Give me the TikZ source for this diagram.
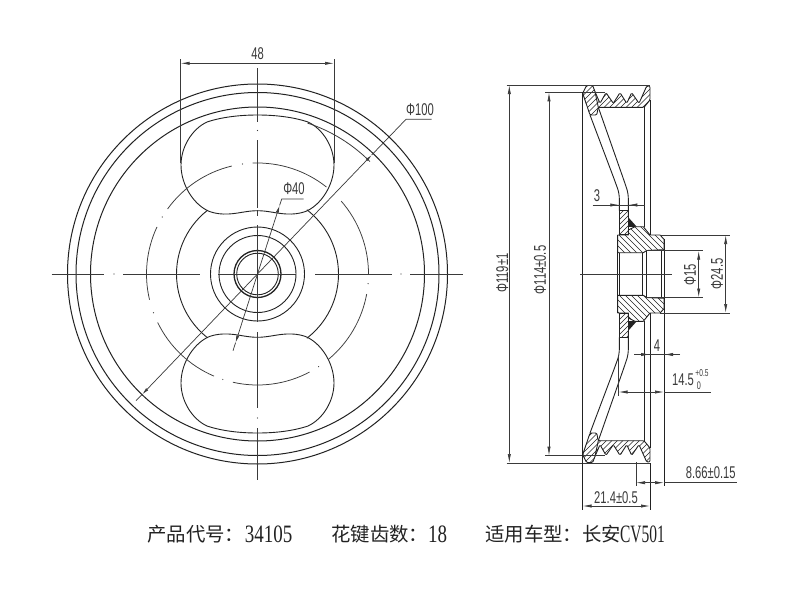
\documentclass[tikz,border=0pt]{standalone}
\usepackage{fontspec}
\setmainfont{Liberation Sans}
\newfontfamily\cjk{Noto Sans CJK SC}
\newfontfamily\capfont{Liberation Serif}
\usetikzlibrary{arrows.meta}
\definecolor{ink}{HTML}{222222}
\definecolor{thinink}{HTML}{3A3A3A}
\tikzset{
  x=1pt,y=-1pt,
  outl/.style={line width=0.9pt,color=ink,line join=round},
  rimc/.style={line width=1.0pt,color=ink},
  cl/.style={line width=0.75pt,color=thinink},
  dot/.style={fill=thinink,draw=none},
  dim/.style={line width=0.7pt,color=thinink},
  dimar/.style={dim,{Latex[length=9pt,width=3.2pt]}-{Latex[length=9pt,width=3.2pt]}},
  tipar/.style={dim,-{Latex[length=7pt,width=3pt]}},
  hat/.style={line width=0.5pt,color=ink},
  lbl/.style={font=\fontsize{17}{17}\selectfont,text=thinink,xscale=0.66,inner sep=0pt},
  lblv/.style={font=\fontsize{17}{17}\selectfont,text=thinink,rotate=90,xscale=0.66,inner sep=0pt},
  capz/.style={font=\cjk\fontsize{19.4}{20}\selectfont,text=ink,anchor=west,inner sep=0pt},
  capd/.style={font=\capfont\fontsize{25}{25}\selectfont,text=ink,anchor=west,inner sep=0pt,xscale=0.76},
}
% hatch lines through (k,274); #1 = slope in local coords
\newcommand{\hatchl}[4]{\foreach \k in {#2,#3,...,#4}{\draw[hat] ({\k-195},{274-195*(#1)}) -- ({\k+195},{274+195*(#1)});}}
\newcommand{\ringarc}[3]{\draw[#3] (257.5,274) ++(#1:111pt) arc[start angle=#1,end angle=#2,radius=111pt];}
\newcommand{\rdot}[1]{\fill[dot] (257.5,274) ++(#1:111pt) circle[radius=0.6pt];}
% one half of the section; #1 = +1 upper, -1 mirrored
\newcommand{\halfsec}[1]{%
  % rim and teeth hatch
  \begin{scope}
    \clip[rounded corners=1.2pt] (582.7,93.3) -- (586.5,85.5) -- (592.7,85.5) -- (595,91.7) -- (600,103.3) -- (606,92.7) -- (613.3,103.3) -- (620,92.7) -- (626.7,103.3) -- (631.7,92.7) -- (639,103.3) -- (646.7,86) -- (650,86) -- (650,100) -- (644,107.3) -- (598.3,107.3) -- (596.7,115) -- (590,115) -- cycle;
    \hatchl{-1*(#1)}{300}{305.5}{1000}
  \end{scope}
  \draw[outl,rounded corners=1.2pt] (582.7,93.3) -- (586.5,85.5) -- (592.7,85.5) -- (595,91.7) -- (600,103.3) -- (606,92.7) -- (613.3,103.3) -- (620,92.7) -- (626.7,103.3) -- (631.7,92.7) -- (639,103.3) -- (646.7,86) -- (650,86) -- (650,100) -- (644,107.3) -- (598.3,107.3) -- (596.7,115) -- (590,115) -- cycle;
  \draw[outl] (595,91.7) -- (598.3,107.3);
  % web
  \draw[outl,rounded corners=5pt] (590,115) -- (614.5,180) -- (619.3,193.3) -- (619.3,210.7);
  \draw[outl,rounded corners=5pt] (598.3,107.3) -- (623.8,180) -- (628.3,193.3) -- (628.3,217.3);
  % plate
  \begin{scope}
    \clip (619.3,210.7) rectangle (628.3,234.5);
    \hatchl{-1*(#1)}{560}{565}{1000}
  \end{scope}
  \draw[outl] (619.3,210.7) rectangle (628.3,234.5);
  % weld
  \fill[ink] (628.3,217.3) -- (628.3,226.9) -- (636.7,226.7) -- cycle;
  % hub
  \begin{scope}
    \clip (617.7,235) -- (628.3,235) -- (628.3,230) -- (635,226.7) -- (643.3,226.7) -- (650,235) -- (660,235) -- (664,239.3) -- (664,249.7) -- (646.7,250.5) -- (643.3,252.7) -- (617.7,252.7) -- cycle;
    \hatchl{#1}{400}{406}{1000}
  \end{scope}
  \draw[outl] (617.7,235) -- (628.3,235) -- (628.3,230) -- (635,226.7) -- (643.3,226.7) -- (650,235) -- (660,235) -- (664,239.3) -- (664,249.7) -- (646.7,250.5) -- (643.3,252.7) -- (617.7,252.7) -- cycle;
  \draw[outl] (644,107.3) -- (644,226.7);
  \draw[outl] (650,100) -- (650,235);
  % extension and outline lines
  \draw[dim] (506.7,85) -- (650,85);
  \draw[dim] (545,92.3) -- (605,92.3);
}
\newcommand{\slotshape}{%
  \draw[outl] (257.5,115)
    .. controls (275,115) and (293,117) .. (308,122)
    .. controls (323,129) and (334,147) .. (334,165)
    .. controls (334,186) and (320,206) .. (305,211.7)
    .. controls (299,213.7) and (293,214.3) .. (286.7,214)
    .. controls (276,213.5) and (268,210.7) .. (257.5,210.7)
    .. controls (247,210.7) and (239,213.5) .. (228.3,214)
    .. controls (222,214.3) and (216,213.7) .. (210,211.7)
    .. controls (195,206) and (181,186) .. (181,165)
    .. controls (181,147) and (192,129) .. (207,122)
    .. controls (222,117) and (240,115) .. (257.5,115) -- cycle;
}
\begin{document}
\begin{tikzpicture}
\useasboundingbox (0,0) rectangle (800,600);
\fill[white] (0,0) rectangle (800,600);
% --- front view -------------------------------------------------
\foreach \r in {190,181.5,167}{\draw[rimc] (257.5,274) circle[radius=\r pt];}
\foreach \r in {47,38.5}{\draw[outl] (257.5,274) circle[radius=\r pt];}
\draw[line width=1.3pt,color=ink] (257.5,274) circle[radius=23.5pt];
\draw[outl] (257.5,274) circle[radius=20.8pt];
% R81 arcs
\draw[outl] (257.5,274) ++(128:81pt) arc[start angle=128,end angle=232,radius=81pt];
\draw[outl] (257.5,274) ++(-52.5:81pt) arc[start angle=-52.5,end angle=52.5,radius=81pt];
% slots
\slotshape
\begin{scope}[shift={(0,548)},yscale=-1]\slotshape\end{scope}
\draw[dim,line width=0.8pt] (257.5,274) ++(71.7:159pt) arc[start angle=71.7,end angle=45,radius=159pt];
% centre circle dash-dot
\ringarc{51.6}{92.5}{cl}\rdot{97.8}
\ringarc{103.4}{144.1}{cl}\rdot{149.1}
\ringarc{154.9}{193.4}{cl}\rdot{200.4}
\ringarc{205.9}{246.9}{cl}\rdot{251.8}
\ringarc{257.2}{298}{cl}\rdot{303.4}
\ringarc{309.9}{349.6}{cl}\rdot{355}
\ringarc{0}{41}{cl}
% centre lines
\draw[cl] (51.7,274) -- (104,274);
\fill[dot] (114,274) circle[radius=0.6pt];
\draw[cl] (123.3,274) -- (200,274);
\draw[cl] (218,274) -- (296,274);
\draw[cl] (315,274) -- (391.7,274);
\fill[dot] (401,274) circle[radius=0.6pt];
\draw[cl] (410,274) -- (463,274);
\draw[cl] (257.5,68) -- (257.5,122);
\fill[dot] (257.5,130.5) circle[radius=0.6pt];
\draw[cl] (257.5,140) -- (257.5,208);
\draw[cl] (257.5,210) -- (257.5,216);
\draw[cl] (257.5,225) -- (257.5,322);
\draw[cl] (257.5,332) -- (257.5,408);
\fill[dot] (257.5,418) circle[radius=0.6pt];
\draw[cl] (257.5,428) -- (257.5,480);
% dimension 48
\draw[dim] (180.5,59) -- (180.5,163);
\draw[dim] (334,59) -- (334,163);
\draw[dimar] (180.5,63.3) -- (334,63.3);
\node[lbl] (t48) at (257.5,54) {48};
% phi 100
\coordinate (c) at (257.5,274);
\coordinate (p100a) at (371.7,155);
\coordinate (p100b) at (142.3,394.3);
\draw[tipar] (c) -- (p100a);
\draw[tipar] (c) -- (p100b);
\draw[dim] (p100a) -- (406,119.3) -- (431.7,119.3);
\draw[dim] (p100b) -- (136,400.7);
\node[lbl] (t100) at (420,110) {Φ100};
% phi 40
\coordinate (p40a) at (279.6,205.5);
\coordinate (p40b) at (235.6,342.6);
\draw[tipar] (c) -- (p40a);
\draw[tipar] (c) -- (p40b);
\draw[dim] (p40a) -- (281.7,199) -- (303.5,199);
\draw[dim] (p40b) -- (233,350.7);
\node[lbl] (t40) at (294,189) {Φ40};
% --- section view -----------------------------------------------
\halfsec{1}
\begin{scope}[shift={(0,548)},yscale=-1]\halfsec{-1}\end{scope}
\draw[outl] (582.5,92) -- (582.5,510);
\draw[outl] (617.7,235) -- (617.7,313);
\draw[outl] (619.5,252.7) -- (619.5,295.3);
\draw[outl] (642.7,252.7) -- (642.7,295.3);
\draw[outl] (646.7,250.5) -- (646.7,297.5);
\draw[outl] (661.7,250) -- (661.7,298);
\draw[outl] (664,239.3) -- (664,486);
\draw[outl] (650,463) -- (650,510);
\draw[cl] (580,274) -- (672,274);
% dim 119 / 114
\draw[dimar] (509.3,85) -- (509.3,463);
\draw[dimar] (549,92.3) -- (549,455.7);
\node[lblv] (t119) at (502.3,273) {Φ119±1};
\node[lblv] (t114) at (540,270) {Φ114±0.5};
% dim 3
\draw[dim] (592.7,205) -- (645,205);
\draw[dim,-{Latex[length=9pt,width=3.2pt]}] (600,205) -- (619.3,205);
\draw[dim,-{Latex[length=9pt,width=3.2pt]}] (645,205) -- (628.3,205);
\node[lbl] (t3) at (597,196) {3};
% dim 4
\draw[dim] (634,354.5) -- (680,354.5);
\draw[dim,-{Latex[length=9pt,width=3.2pt]}] (634,354.5) -- (650,354.5);
\draw[dim,-{Latex[length=9pt,width=3.2pt]}] (680,354.5) -- (664,354.5);
\node[lbl] (t4) at (657,346) {4};
% phi 15 / 24.5
\draw[dim] (646,250.7) -- (703,250.7);
\draw[dim] (646,297.5) -- (703,297.5);
\draw[dim] (660,235) -- (730,235);
\draw[dim] (660,313) -- (730,313);
\draw[dimar] (698.7,250.7) -- (698.7,297.5);
\draw[dimar] (725.7,235) -- (725.7,313);
\node[lblv] (t15) at (690,275) {Φ15};
\node[lblv] (t245) at (717,274) {Φ24.5};
% dim 14.5
\draw[dim] (618.5,355) -- (618.5,396);
\draw[dim] (664,392) -- (711,392);
\draw[dim,{Latex[length=9pt,width=3.2pt]}-{Latex[length=9pt,width=3.2pt]}] (618.5,392) -- (664,392);
\node[lbl,anchor=east] (t145) at (694,379.5) {14.5};
\node[lbl,font=\fontsize{10}{10}\selectfont] (t145u) at (702,373) {+0.5};
\node[lbl,font=\fontsize{11}{11}\selectfont] (t145l) at (699,386) {0};
% dim 8.66
\draw[dim] (636,462) -- (636,486);
\draw[dim] (664,482.7) -- (736.7,482.7);
\draw[dim,{Latex[length=9pt,width=3.2pt]}-{Latex[length=9pt,width=3.2pt]}] (636,482.7) -- (664,482.7);
\node[lbl] (t866) at (710.7,473) {8.66±0.15};
% dim 21.4
\draw[dimar] (582.5,506) -- (650,506);
\node[lbl] (t214) at (616,497.7) {21.4±0.5};
% --- caption ----------------------------------------------------
\node[capz] (c1) at (147,534) {产品代号：};
\node[capd] (c2) at (244.6,534) {34105};
\node[capz] (c3) at (331,534) {花键齿数：};
\node[capd] (c4) at (428,534) {18};
\node[capz] (c5) at (485,534) {适用车型：};
\node[capz] (c6) at (582,534) {长安};
\node[capd,xscale=0.815] (c7) at (620,534) {CV501};
\end{tikzpicture}
\end{document}
